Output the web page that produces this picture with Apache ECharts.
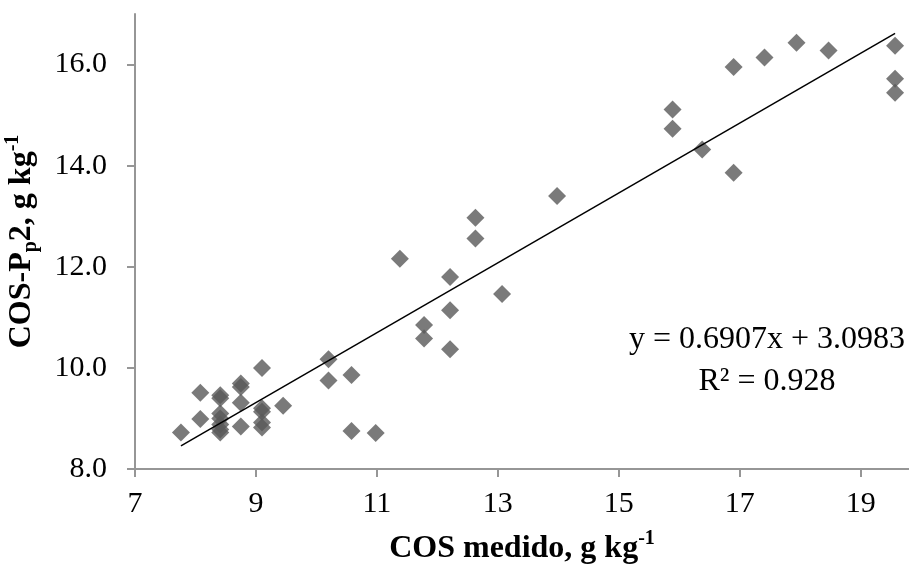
<!DOCTYPE html>
<html>
<head>
<meta charset="utf-8">
<script src="https://cdn.jsdelivr.net/npm/echarts@6/dist/echarts.min.js"></script>
<style>html,body{margin:0;padding:0;background:#fff}#c{width:909px;height:567px}</style>
</head>
<body>
<div id="c"></div>
<script>
// Data
var cosMedido = [7.76, 8.08, 8.08, 8.41, 8.41, 8.41, 8.41, 8.41, 8.41, 8.41,
  8.75, 8.75, 8.75, 8.75, 9.10, 9.10, 9.10, 9.10, 9.10, 9.45,
  10.2, 10.2, 10.58, 10.58, 10.98, 11.38, 11.78, 11.78, 12.21, 12.21, 12.21,
  12.63, 12.63, 13.07, 13.98, 15.89, 15.89, 16.38, 16.90, 16.90, 17.41, 17.94, 18.47,
  19.57, 19.57, 19.57];
var cosPp2 = [8.72, 9.51, 8.99, 9.46, 9.40, 9.10, 9.00, 8.88, 8.78, 8.72,
  9.69, 9.62, 9.31, 8.84, 10.00, 9.20, 9.13, 8.92, 8.82, 9.25,
  10.17, 9.75, 9.86, 8.75, 8.71, 12.16, 10.85, 10.58, 11.80, 11.14, 10.37,
  12.97, 12.56, 11.46, 13.40, 15.11, 14.73, 14.32, 15.95, 13.86, 16.14, 16.43, 16.28,
  16.37, 15.72, 15.44];
var xTickLabels = [7, 9, 11, 13, 15, 17, 19];
var yTickLabels = [8, 10, 12, 14, 16];
var slope = 0.6907;
var intercept = 3.0983;
var r2 = 0.928;

var points = cosMedido.map(function (x, i) { return [x, cosPp2[i]]; });
var xMin = Math.min.apply(null, cosMedido);
var xMax = Math.max.apply(null, cosMedido);
var trend = [[xMin, slope * xMin + intercept], [xMax, slope * xMax + intercept]];

var FONT = 'Liberation Serif';
var axisGray = '#969696';

var chart = echarts.init(document.getElementById('c'), null, {renderer: 'canvas'});
chart.setOption({
  animation: false,
  backgroundColor: '#fff',
  grid: {left: 135, right: 0, top: 14, bottom: 98, containLabel: false, outerBoundsMode: 'none'},
  xAxis: {
    type: 'value', min: 7, max: 19.8,
    axisLine: {lineStyle: {color: axisGray, width: 2}},
    axisTick: {show: true, inside: false, length: 8, lineStyle: {color: axisGray, width: 2}, customValues: xTickLabels},
    axisLabel: {customValues: xTickLabels, fontFamily: FONT, fontSize: 30, color: '#000', margin: 20},
    splitLine: {show: false},
    name: '{b|COS medido, g kg}{sup|-1}',
    nameLocation: 'middle', nameGap: 60,
    nameTextStyle: {
      rich: {
        b: {fontFamily: FONT, fontWeight: 'bold', fontSize: 32, color: '#000', lineHeight: 36, verticalAlign: 'bottom'},
        sup: {fontFamily: FONT, fontWeight: 'bold', fontSize: 20, color: '#000', lineHeight: 36, verticalAlign: 'top'}
      }
    }
  },
  yAxis: {
    type: 'value', min: 8, max: 17,
    axisLine: {show: true, lineStyle: {color: axisGray, width: 2}},
    axisTick: {show: true, inside: false, length: 8, lineStyle: {color: axisGray, width: 2}, customValues: yTickLabels},
    axisLabel: {customValues: yTickLabels, fontFamily: FONT, fontSize: 30, color: '#000', margin: 28,
      formatter: function (v) { return Number(v).toFixed(1); }},
    splitLine: {show: false},
    name: '{b|COS-P}{sub|p}{b|2, g kg}{sup|-1}',
    nameLocation: 'middle', nameRotate: 90, nameGap: 94,
    nameTextStyle: {
      rich: {
        b: {fontFamily: FONT, fontWeight: 'bold', fontSize: 32, color: '#000', lineHeight: 38, verticalAlign: 'middle'},
        sub: {fontFamily: FONT, fontWeight: 'bold', fontSize: 20, color: '#000', lineHeight: 38, verticalAlign: 'bottom'},
        sup: {fontFamily: FONT, fontWeight: 'bold', fontSize: 20, color: '#000', lineHeight: 38, verticalAlign: 'top'}
      }
    }
  },
  series: [
    {
      type: 'scatter', data: points, symbol: 'diamond', symbolSize: 18,
      itemStyle: {color: '#595959'}, z: 2
    },
    {
      type: 'line', data: trend, showSymbol: false, symbol: 'none',
      lineStyle: {color: '#000', width: 1.5}, z: 3, silent: true
    }
  ],
  graphic: [
    {type: 'text', x: 767, y: 324, z: 10,
      style: {text: 'y = ' + slope.toFixed(4) + 'x + ' + intercept.toFixed(4), fontFamily: FONT, fontSize: 32, fill: '#000', align: 'center'}},
    {type: 'text', x: 767, y: 366, z: 10,
      style: {text: 'R² = ' + r2.toFixed(3), fontFamily: FONT, fontSize: 32, fill: '#000', align: 'center'}}
  ]
});
</script>
</body>
</html>
